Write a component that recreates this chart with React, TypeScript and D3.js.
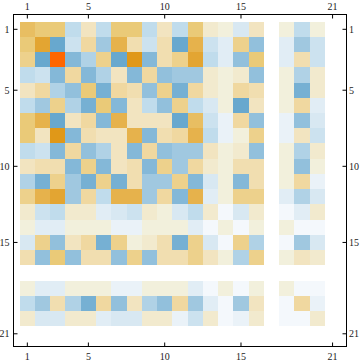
import React from 'react';
import * as d3 from 'd3';

// 21x21 matrix, values (0 = white, + orange, - blue)
const matrix: number[][] = [
  [4.5, 4, 4, -3, 2, -3, 4, 4, -3, 2, -3, 4, 1.5, 1, -2, 2, 0, 1, -3, 1, 0],
  [4, 5.5, -6, -2.5, 3, -4, 5, 2.5, -2.5, 2.5, -6, 5, -2.5, -1.5, 3.5, -4.5, 0, -1.5, -4, -2.5, 0],
  [3.5, -6, 7, -5, -3.5, 3.5, -6, 6, -5, 2.5, 3.5, 5.5, -3, -1.5, -4.5, 4, 0, -1.5, 2.5, -2.5, 0],
  [-3, -2.5, -5, 3, -5, -3.5, 2, -5, 3, -4.5, -4, -4, 1.5, 1, 1.5, -4.5, 0, 1, -3.5, 1.5, 0],
  [2, 3, -3.5, -4.5, 4, -5.5, 3, 2.5, -4.5, 3.5, -5.5, 3, 1.5, 1, 3, 2.5, 0, 1, -5.5, 1.5, 0],
  [-3, -4, 3.5, -3.5, -5.5, 4, -5, 2, -3, -4.5, 3.5, -3, -2, 1, -6, 2, 0, 1, 3, -1.5, 0],
  [4, 5, -6, 2, 3, -5, 5, 2, 2, 2, -6, 4.5, -2.5, -1, 3, -4.5, 0, -1, -4.5, -2, 0],
  [4, 2, 6, -5, 2.5, 2, 2, 5, -5, 2.5, 3, 5, -3, -1, 1, 3.5, 0, -1, 2, -2.5, 0],
  [-3, -2.5, -5, 3, -4.5, -3.5, 2, -5, 3, -4.5, -4, -4, 2, 1, 1.5, -4.5, 0, 1, -3.5, 1.5, 0],
  [2, 2.5, 2.5, -5, 3.5, -5, 2, 2.5, -5, 3.5, -4, 3, 1.5, 1, 2.5, 2.5, 0, 1, -4.5, 1, 0],
  [-3.5, -5.5, 3.5, -4, -5.5, 3.5, -5.5, 2.5, -4, -4, 3.5, -5, -2, 1, -5, 2.5, 0, 1, 3, -1, 0],
  [3.5, 5, 5.5, -4, 3, -3, 5, 5, -4, 3, -5, 5, -1.5, 1, 3.5, 3.5, 0, -1.5, -3.5, -2, 0],
  [1.5, -2.5, -3, 1.5, 1.5, -1.5, -2, -2.5, 1.5, 1, -2, -3, 1.5, -0.5, -2, 1.5, 0, -0.5, -1.5, 1.5, 0],
  [1, -1.5, -1.5, 1, 1, 1, -1, -1, 1, 1, 1, -1.5, -0.5, 1, -0.5, 1, 0, 1, -0.5, -0.5, 0],
  [-2, 3.5, -4.5, 2, 3, -5.5, 3.5, 1, 1.5, 2.5, -5.5, 3.5, -2, -0.5, 3.5, -3.5, 0, -0.5, -4, -2, 0],
  [2.5, -4.5, 4, -4.5, 2.5, 2.5, -4.5, 3.5, -4.5, 2.5, 2.5, 3.5, 2, 1, -3.5, 3.5, 0, 1, 2, 1.5, 0],
  [0, 0, 0, 0, 0, 0, 0, 0, 0, 0, 0, 0, 0, 0, 0, 0, 0, 0, 0, 0, 0],
  [1, -1.5, -1.5, 1, 1, 1, -1, -1, 1, 1, 1, -1.5, -0.5, 1, -0.5, 1, 0, 1, -0.5, -0.5, 0],
  [-3, -4, 2.5, -3.5, -5.5, 3, -4.5, 2, -3.5, -4.5, 3, -4, -1.5, -0.5, -4, 2, 0, -0.5, 3, -1, 0],
  [1.5, -2, -2, 1.5, 1.5, -1.5, -2, -2, 1.5, 1.5, -1, -2.5, 1.5, -0.5, -1, 1.5, 0, -0.5, -0.5, 1.5, 0],
  [0, 0, 0, 0, 0, 0, 0, 0, 0, 0, 0, 0, 0, 0, 0, 0, 0, 0, 0, 0, 0],
];

const tickValues = [1, 5, 10, 15, 21];

const colorStops = [-6, -5, -4, -3, -2, -1, -0.5, 0, 0.5, 1, 2, 3, 4, 5, 6, 7];
const colorRange = [
  '#68a8ce', '#84b8d8', '#a0c8e0', '#c0dcec', '#d8e8f2', '#eaf2f8', '#f4f8fc', '#ffffff',
  '#f6f4e8', '#f2f0dc', '#f2e4c0', '#f0d8a0', '#eaca78', '#e6b24c', '#e09818', '#ff6600',
];

const W = 360;
const H = 363;
const frame = { left: 13.5, top: 14.5, right: 346.5, bottom: 346.5 };

export default function App() {
  const n = matrix.length;
  const idx = d3.range(1, n + 1);
  const x = d3.scaleBand<number>().domain(idx).range([19.7, 340.2]);
  const y = d3.scaleBand<number>().domain(idx).range([21.7, 341.4]);
  const color = d3.scaleLinear<string>().domain(colorStops).range(colorRange).clamp(true);
  const bw = x.bandwidth();
  const bh = y.bandwidth();
  const font = '"Liberation Serif", "DejaVu Serif", serif';
  const tickLen = 4;

  return (
    <div style={{ position: 'fixed', left: 0, top: 0 }}>
      <svg width={W} height={H} style={{ display: 'block' }}>
        <rect width={W} height={H} fill="#fff" />
        <g shapeRendering="crispEdges">
          {matrix.map((row, r) =>
            row.map((v, c) => (
              <rect
                key={`${r}-${c}`}
                x={x(c + 1)}
                y={y(r + 1)}
                width={bw + 0.3}
                height={bh + 0.3}
                fill={color(v)}
              />
            ))
          )}
        </g>
        <rect
          x={frame.left}
          y={frame.top}
          width={frame.right - frame.left}
          height={frame.bottom - frame.top}
          fill="none"
          stroke="#000"
          strokeWidth={1}
        />
        <g stroke="#000" strokeWidth={1}>
          {tickValues.map((t) => {
            const cx = x(t)! + bw / 2;
            const cy = y(t)! + bh / 2;
            return (
              <g key={t}>
                <line x1={cx} x2={cx} y1={frame.top} y2={frame.top + tickLen} />
                <line x1={cx} x2={cx} y1={frame.bottom} y2={frame.bottom - tickLen} />
                <line x1={frame.left} x2={frame.left + tickLen} y1={cy} y2={cy} />
                <line x1={frame.right} x2={frame.right - tickLen} y1={cy} y2={cy} />
              </g>
            );
          })}
        </g>
        <g fontFamily={font} fontSize={10} fill="#222">
          {tickValues.map((t) => {
            const cx = x(t)! + bw / 2;
            const cy = y(t)! + bh / 2;
            return (
              <g key={t}>
                <text x={cx} y={10} textAnchor="middle">{t}</text>
                <text x={cx} y={360} textAnchor="middle">{t}</text>
                <text x={9.5} y={cy + 3.5} textAnchor="end">{t}</text>
                <text x={349} y={cy + 3.5} textAnchor="start">{t}</text>
              </g>
            );
          })}
        </g>
      </svg>
    </div>
  );
}
